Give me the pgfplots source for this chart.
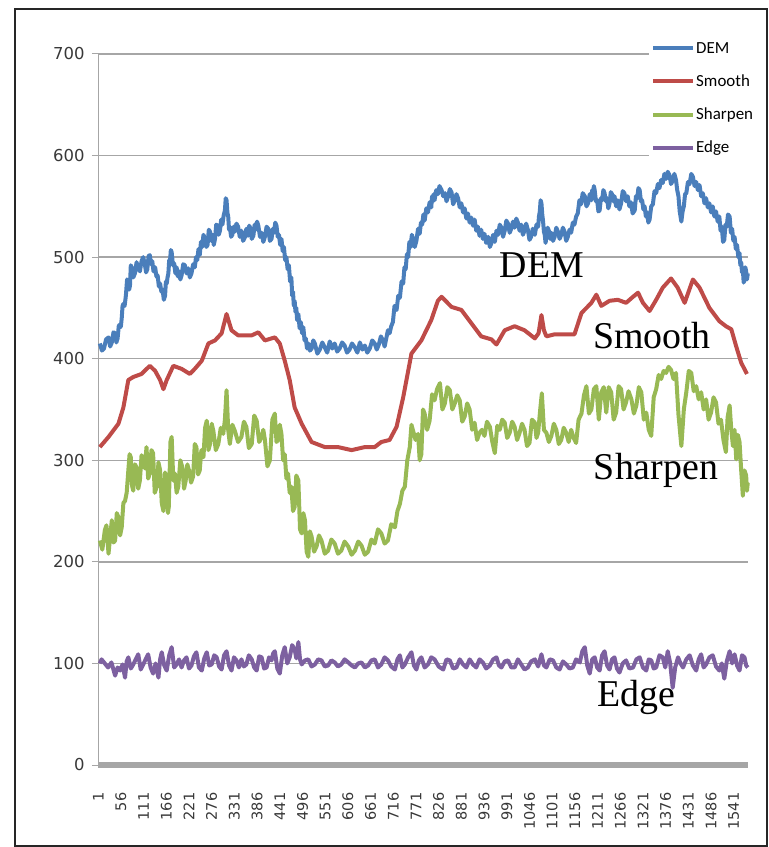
\documentclass[border=0pt]{standalone}
\usepackage{pgfplots}
\pgfplotsset{compat=1.18}
\usepackage{fontspec}
\setmainfont{Carlito}
\newfontfamily\tnr{Liberation Serif}
\newfontfamily\dvs{DejaVu Sans}
\definecolor{cDEM}{HTML}{4A7EBB}
\definecolor{cSmooth}{HTML}{BE4B48}
\definecolor{cSharpen}{HTML}{98B954}
\definecolor{cEdge}{HTML}{7D60A0}
\definecolor{gridc}{HTML}{A6A6A6}
\begin{document}
\begin{tikzpicture}
\useasboundingbox (0,0) rectangle (769bp,847bp);
\draw[black!85, line width=1.6bp] (15bp,1bp) rectangle (767bp,838bp);
\begin{axis}[
  at={(98bp,82bp)}, anchor=south west,
  scale only axis, width=650bp, height=711bp,
  xmin=0.5, xmax=1575.5, ymin=0, ymax=700,
  axis x line*=bottom, axis y line*=left,
  x axis line style={line width=1bp, gridc},
  y axis line style={line width=1bp, gridc},
  ytick={0,100,200,300,400,500,600,700},
  yticklabels={0,100,200,300,400,500,600,700},
  xtick={1,56,111,166,221,276,331,386,441,496,551,606,661,716,771,826,881,936,991,1046,1101,1156,1211,1266,1321,1376,1431,1486,1541},
  xticklabels={1,56,111,166,221,276,331,386,441,496,551,606,661,716,771,826,881,936,991,1046,1101,1156,1211,1266,1321,1376,1431,1486,1541},
  xtick style={draw=none},
  ytick style={gridc, line width=1bp},
  tick align=outside, major tick length=6bp,
  ymajorgrids, grid style={gridc, line width=1.3bp},
  yticklabel style={font=\dvs\fontsize{16.5}{17}\selectfont, color=black!78, xshift=-4bp},
  xticklabel style={font=\dvs\fontsize{14.6}{15}\selectfont, color=black!78, rotate=90, anchor=east, xshift=-18bp},
  legend style={at={(0.8477,1.021)}, anchor=north west, draw=none, fill=white,
    font=\fontsize{17}{18}\selectfont, row sep=18bp, inner sep=2bp,
    nodes={inner sep=1bp}},
  legend cell align=left,
  legend image code/.code={\draw[#1, line width=4bp] (0bp,0bp) -- (40bp,0bp);},
  every axis plot/.append style={line width=4bp, line join=round, mark=none},
  clip=false,
]
% DEM
\addplot[cDEM] coordinates {
(5,415) (10,408) (15,410) (20,419) (26,421) (30,412) (34,416) (38,426) (42,425) (45,416) (48,420) (51,433) (54,431) (56,432) (58,440) (60,452) (62,454) (65,452) (68,462) (71,478) (74,477) (76,468) (78,472) (80,492) (82,490) (86,480) (90,484) (94,495) (98,489) (102,486) (106,496) (110,500) (114,493) (117,485) (120,488) (123,501) (126,502) (129,493) (132,496) (135,486) (139,490) (142,481) (145,482) (148,471) (151,474) (154,466) (157,468) (160,458) (163,462) (165,476) (167,474) (169,480) (171,484) (173,497) (175,496) (177,507) (179,505) (182,492) (185,494) (188,484) (191,490) (194,481) (197,486) (200,478) (203,482) (207,493) (211,492) (215,484) (219,489) (223,480) (227,484) (231,493) (235,490) (238,500) (241,497) (244,508) (247,502) (250,515) (253,510) (256,522) (260,518) (263,510) (266,512) (269,527) (272,525) (275,516) (278,522) (281,512) (284,518) (287,532) (290,531) (293,522) (296,526) (299,537) (302,532) (305,541) (308,546) (310,558) (312,556) (314,544) (316,540) (318,527) (320,530) (323,520) (326,522) (329,530) (332,525) (336,533) (340,530) (344,520) (348,526) (352,516) (356,519) (360,528) (364,521) (367,531) (370,528) (373,518) (377,521) (380,532) (383,527) (386,535) (389,531) (393,520) (397,524) (401,515) (405,520) (409,530) (413,528) (417,516) (421,518) (424,528) (427,524) (430,534) (433,531) (436,520) (439,522) (442,512) (445,518) (448,506) (451,510) (454,497) (457,500) (460,488) (463,492) (466,476) (469,480) (471,462) (473,466) (475,452) (477,457) (479,446) (481,450) (483,438) (486,444) (489,430) (492,436) (495,425) (498,431) (501,418) (504,420) (507,410) (510,415) (514,408) (518,410) (522,418) (526,415) (532,405) (538,409) (544,416) (550,411) (556,406) (562,417) (568,410) (574,415) (580,407) (586,410) (592,416) (598,413) (604,406) (610,409) (616,415) (623,411) (629,406) (635,416) (641,409) (647,413) (653,406) (659,410) (665,418) (671,415) (676,409) (681,414) (686,422) (691,418) (695,412) (699,420) (703,428) (707,425) (711,432) (715,436) (719,452) (724,448) (728,462) (732,460) (736,476) (740,474) (743,490) (746,488) (749,503) (752,500) (755,515) (758,510) (761,522) (764,518) (768,510) (772,516) (776,528) (780,523) (783,534) (786,532) (789,542) (792,536) (796,548) (800,544) (804,554) (808,549) (810,560) (812,555) (814,562) (816,556) (820,566) (824,562) (828,570) (833,566) (837,560) (841,563) (845,555) (849,560) (853,567) (857,564) (861,552) (865,556) (869,562) (873,558) (877,549) (881,553) (885,544) (889,548) (893,538) (897,543) (901,534) (905,539) (909,531) (913,537) (917,526) (921,530) (925,521) (929,527) (933,518) (937,523) (941,514) (946,520) (950,510) (954,514) (958,522) (962,515) (966,526) (970,522) (974,532) (978,529) (982,520) (986,526) (990,536) (994,533) (998,524) (1002,528) (1006,535) (1010,529) (1014,538) (1018,534) (1022,526) (1026,532) (1030,522) (1034,526) (1038,533) (1042,527) (1046,517) (1050,520) (1054,528) (1059,522) (1063,532) (1067,530) (1069,540) (1071,545) (1073,556) (1075,553) (1077,542) (1079,535) (1081,525) (1083,522) (1085,514) (1087,520) (1090,529) (1093,526) (1096,518) (1099,524) (1103,516) (1107,520) (1111,529) (1115,525) (1119,518) (1123,522) (1127,529) (1131,525) (1135,516) (1139,520) (1143,527) (1147,524) (1151,534) (1155,532) (1159,540) (1163,543) (1167,556) (1171,552) (1175,563) (1180,560) (1184,550) (1188,553) (1192,562) (1196,556) (1198,566) (1200,562) (1202,570) (1204,566) (1207,555) (1210,556) (1213,545) (1216,546) (1219,558) (1222,556) (1225,566) (1228,563) (1231,555) (1234,558) (1237,548) (1240,553) (1243,564) (1246,562) (1249,555) (1252,560) (1256,550) (1260,556) (1264,547) (1268,553) (1272,565) (1276,563) (1280,555) (1284,560) (1288,550) (1292,554) (1296,543) (1301,546) (1304,560) (1307,558) (1310,568) (1313,566) (1316,555) (1319,556) (1322,547) (1325,550) (1328,540) (1331,544) (1334,534) (1337,537) (1341,550) (1345,552) (1349,565) (1353,563) (1357,572) (1361,568) (1365,576) (1369,573) (1373,582) (1377,577) (1381,584) (1385,581) (1389,572) (1393,575) (1397,582) (1401,576) (1404,566) (1407,560) (1410,545) (1414,535) (1417,545) (1420,550) (1423,562) (1426,563) (1430,574) (1434,572) (1438,582) (1442,579) (1446,570) (1450,574) (1454,566) (1458,571) (1462,560) (1466,563) (1470,553) (1474,558) (1478,549) (1482,553) (1486,544) (1490,550) (1494,540) (1498,545) (1502,535) (1506,540) (1509,526) (1512,530) (1515,515) (1518,517) (1521,532) (1524,530) (1527,542) (1531,540) (1534,524) (1537,528) (1540,516) (1543,520) (1546,508) (1549,512) (1552,500) (1555,504) (1557,492) (1559,495) (1561,485) (1563,488) (1565,475) (1567,478) (1569,490) (1571,486) (1573,478) (1575,484)
};
\addlegendentry{DEM}
% Smooth
\addplot[cSmooth] coordinates {
(5,313) (26,323) (50,336) (62,352) (74,379) (86,382) (106,385) (126,393) (139,388) (151,379) (159,370) (167,379) (183,393) (203,390) (223,385) (235,390) (252,398) (268,415) (284,418) (300,425) (312,444) (324,428) (340,423) (356,423) (373,423) (389,426) (405,418) (429,421) (441,415) (453,398) (465,379) (477,352) (494,336) (518,318) (550,313) (582,313) (615,310) (647,313) (671,313) (687,318) (707,320) (724,333) (740,362) (760,405) (784,418) (808,438) (824,457) (833,461) (857,451) (881,448) (905,435) (929,422) (954,419) (966,414) (986,428) (1010,432) (1034,428) (1059,420) (1068,425) (1075,443) (1081,428) (1087,422) (1107,424) (1139,424) (1155,424) (1172,445) (1196,455) (1208,463) (1220,452) (1240,457) (1260,458) (1280,455) (1297,461) (1309,465) (1321,455) (1337,447) (1353,458) (1369,470) (1389,479) (1405,470) (1422,455) (1442,478) (1458,470) (1482,450) (1506,437) (1522,432) (1535,429) (1547,412) (1559,396) (1573,385)
};
\addlegendentry{Smooth}
% Sharpen
\addplot[cSharpen] coordinates {
(5,221) (11,212) (17,231) (21,236) (26,208) (30,225) (34,241) (38,219) (42,221) (46,248) (50,244) (54,226) (58,234) (62,258) (66,260) (70,268) (74,290) (77,306) (80,303) (83,275) (86,270) (90,296) (94,293) (98,272) (102,280) (106,305) (110,300) (114,292) (118,313) (122,282) (126,287) (130,310) (134,307) (138,268) (143,274) (147,298) (151,290) (155,258) (159,250) (163,288) (167,280) (170,248) (172,254) (176,318) (179,323) (183,280) (187,287) (191,268) (195,274) (200,300) (205,293) (209,272) (213,280) (217,296) (221,290) (226,278) (231,284) (235,316) (239,313) (243,286) (247,290) (251,310) (256,303) (260,332) (264,339) (268,310) (272,316) (276,336) (280,329) (286,310) (292,316) (298,332) (304,326) (308,340) (312,369) (316,330) (320,316) (326,335) (332,329) (340,318) (348,323) (354,338) (360,333) (366,312) (373,316) (379,344) (385,339) (391,318) (397,323) (401,330) (405,320) (411,294) (417,300) (423,340) (429,346) (433,318) (437,320) (441,335) (445,326) (449,300) (453,306) (457,282) (461,287) (465,268) (469,274) (473,250) (477,254) (481,285) (486,280) (490,232) (494,228) (498,248) (502,241) (506,210) (510,205) (514,230) (518,225) (524,210) (530,215) (536,226) (542,221) (550,208) (558,211) (566,222) (574,218) (582,208) (590,211) (598,220) (607,215) (615,207) (623,211) (631,220) (639,216) (647,207) (655,210) (663,222) (671,218) (679,232) (687,228) (695,218) (703,221) (711,237) (720,234) (726,250) (732,257) (738,270) (744,274) (750,300) (756,313) (760,335) (764,329) (770,320) (776,326) (780,300) (784,306) (788,350) (792,346) (798,330) (804,339) (810,365) (816,359) (822,370) (829,376) (835,350) (841,356) (847,372) (853,369) (859,350) (865,356) (871,364) (877,359) (883,338) (889,343) (895,356) (901,350) (907,330) (913,337) (919,320) (925,327) (931,330) (937,324) (943,338) (950,333) (956,318) (962,307) (968,334) (974,330) (980,340) (986,337) (992,322) (998,327) (1004,338) (1010,333) (1016,320) (1022,327) (1028,336) (1034,330) (1040,314) (1046,317) (1052,340) (1059,337) (1063,322) (1067,327) (1072,350) (1076,366) (1081,330) (1087,327) (1093,318) (1099,324) (1105,336) (1111,330) (1117,316) (1123,320) (1129,332) (1135,327) (1141,318) (1147,330) (1153,322) (1159,317) (1165,340) (1172,346) (1178,364) (1184,373) (1190,346) (1196,350) (1202,370) (1208,373) (1214,340) (1220,367) (1226,372) (1232,347) (1238,372) (1244,367) (1250,340) (1256,347) (1262,373) (1268,370) (1274,350) (1280,357) (1286,368) (1293,360) (1299,346) (1305,354) (1311,372) (1317,367) (1323,340) (1329,347) (1335,330) (1341,324) (1347,362) (1353,370) (1359,384) (1365,380) (1371,388) (1377,386) (1383,392) (1389,389) (1395,380) (1401,386) (1407,345) (1414,314) (1420,350) (1426,367) (1432,388) (1438,386) (1444,368) (1450,373) (1456,360) (1462,367) (1468,350) (1474,360) (1480,340) (1486,347) (1492,362) (1498,357) (1504,336) (1510,340) (1516,320) (1522,308) (1526,342) (1531,354) (1535,330) (1539,314) (1543,330) (1547,301) (1551,325) (1555,318) (1559,290) (1563,265) (1567,290) (1571,285) (1573,270) (1575,278)
};
\addlegendentry{Sharpen}
% Edge
\addplot[cEdge] coordinates {
(5,100) (9,104) (17,100) (25,96) (33,101) (42,88) (48,96) (54,93) (60,99) (66,86) (70,102) (74,106) (80,95) (86,99) (92,104) (98,109) (104,94) (110,99) (116,104) (122,109) (128,96) (134,90) (140,100) (147,86) (151,104) (155,111) (161,98) (167,93) (173,108) (179,116) (185,96) (191,99) (197,104) (203,96) (209,103) (215,106) (221,95) (227,98) (233,107) (239,111) (245,96) (252,93) (258,105) (264,111) (270,98) (276,99) (282,108) (288,106) (294,97) (300,94) (306,108) (312,112) (318,98) (324,93) (330,106) (336,103) (342,96) (348,104) (354,97) (360,99) (366,108) (373,104) (379,96) (385,93) (391,107) (397,106) (403,95) (409,96) (415,106) (421,103) (425,110) (429,112) (435,95) (441,90) (447,108) (453,116) (459,100) (465,106) (471,118) (477,114) (481,105) (486,121) (490,104) (494,99) (502,103) (510,104) (518,97) (526,99) (534,104) (542,103) (550,97) (558,98) (566,103) (574,101) (582,97) (590,99) (598,104) (607,101) (615,98) (623,96) (631,100) (639,101) (647,96) (655,98) (663,103) (671,104) (679,96) (687,99) (695,106) (703,103) (711,97) (720,94) (726,104) (732,108) (738,96) (744,99) (752,106) (760,111) (766,98) (772,94) (778,103) (784,106) (792,96) (800,99) (808,106) (816,104) (826,97) (837,94) (845,104) (853,103) (861,95) (869,96) (877,104) (885,99) (893,96) (901,104) (909,99) (917,96) (925,104) (933,101) (941,95) (950,98) (958,104) (966,106) (972,98) (978,96) (986,102) (994,103) (1002,96) (1010,96) (1018,104) (1026,99) (1034,94) (1042,96) (1050,102) (1059,104) (1067,97) (1075,109) (1081,98) (1087,96) (1095,104) (1103,103) (1111,96) (1119,94) (1127,102) (1135,99) (1143,95) (1151,96) (1159,104) (1168,101) (1174,112) (1180,116) (1186,98) (1192,90) (1198,104) (1204,106) (1210,96) (1216,93) (1222,108) (1228,112) (1234,98) (1240,94) (1246,104) (1252,106) (1258,95) (1264,91) (1272,100) (1280,103) (1288,95) (1297,96) (1305,104) (1313,106) (1321,96) (1329,93) (1335,104) (1341,103) (1347,95) (1353,96) (1361,108) (1369,106) (1375,96) (1381,112) (1387,100) (1393,76) (1399,96) (1406,106) (1412,100) (1418,96) (1426,104) (1434,108) (1442,98) (1450,93) (1456,104) (1462,109) (1468,96) (1474,99) (1482,106) (1490,108) (1498,97) (1506,93) (1512,100) (1518,85) (1524,102) (1531,112) (1537,100) (1543,109) (1549,98) (1555,93) (1561,108) (1567,106) (1571,98) (1575,96)
};
\addlegendentry{Edge}
\draw[gridc, line width=6bp] (rel axis cs:0,0) -- (rel axis cs:1,0);
\end{axis}
\node[font=\tnr\fontsize{38}{40}\selectfont, anchor=base, inner sep=0pt] at (542bp,569bp) {DEM};
\node[font=\tnr\fontsize{38}{40}\selectfont, anchor=base, inner sep=0pt] at (652bp,498bp) {Smooth};
\node[font=\tnr\fontsize{38}{40}\selectfont, anchor=base, inner sep=0pt] at (656bp,367bp) {Sharpen};
\node[font=\tnr\fontsize{38}{40}\selectfont, anchor=base, inner sep=0pt] at (636bp,140bp) {Edge};
\end{tikzpicture}
\end{document}
